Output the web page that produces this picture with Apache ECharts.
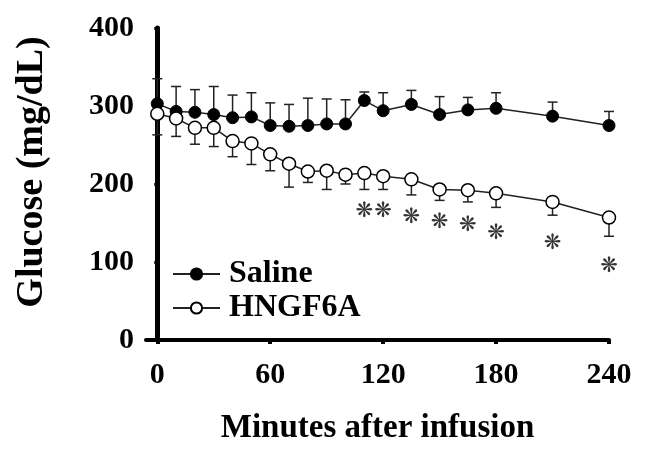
<!DOCTYPE html>
<html>
<head>
<meta charset="utf-8">
<script src="https://cdn.jsdelivr.net/npm/echarts@6/dist/echarts.min.js"></script>
<style>
  html, body { margin: 0; padding: 0; background: #fff; }
  #chart { width: 645px; height: 450px; }
</style>
</head>
<body>
<div id="chart"></div>
<script>
// minutes after infusion
var times = [0, 10, 20, 30, 40, 50, 60, 70, 80, 90, 100, 110, 120, 135, 150, 165, 180, 210, 240];
// Saline mean and upper end of error bar
var saline = [303, 293, 292, 289, 285, 286, 275, 274, 275, 277, 277, 307, 294, 302, 289, 295, 297, 287, 275];
var salineHigh = [335, 325, 321, 325, 314, 317, 304, 302, 310, 309, 308, 318, 317, 320, 312, 311, 317, 305, 293];
// HNGF6A mean and lower end of error bar
var hngf = [290, 284, 272, 272, 255, 252, 238, 226, 216, 217, 212, 214, 210, 206, 193, 192, 188, 177, 157];
var hngfLow = [263, 261, 251, 248, 235, 225, 217, 196, 202, 193, 200, 193, 193, 186, 179, 177, 170, 160, 133];
// significance marks
var starTimes = [110, 120, 135, 150, 165, 180, 210, 240];
var starY = [167, 167, 160, 153, 149, 139, 126, 97];
var xTicks = [0, 60, 120, 180, 240];

var FONT = 'Liberation Serif';

function pairs(xs, ys) {
  return xs.map(function (x, i) { return [x, ys[i]]; });
}
function bars(xs, mid, end) {
  return xs.map(function (x, i) { return [x, mid[i], end[i]]; });
}

function renderBar(params, api) {
  var p0 = api.coord([api.value(0), api.value(1)]);
  var p1 = api.coord([api.value(0), api.value(2)]);
  var half = 5;
  var st = { stroke: '#222', lineWidth: 1.5 };
  return {
    type: 'group',
    children: [
      { type: 'line', shape: { x1: p0[0], y1: p0[1], x2: p1[0], y2: p1[1] }, style: st },
      { type: 'line', shape: { x1: p1[0] - half, y1: p1[1], x2: p1[0] + half, y2: p1[1] }, style: st }
    ]
  };
}

var chart = echarts.init(document.getElementById('chart'));

var option = {
  animation: false,
  backgroundColor: '#fff',
  grid: { left: 146, right: 36, top: 28, bottom: 102, containLabel: false },
  legend: {
    data: ['Saline', 'HNGF6A'],
    orient: 'vertical',
    left: 167,
    top: 253,
    itemWidth: 47,
    itemHeight: 14,
    itemGap: 2,
    textStyle: { fontFamily: FONT, fontWeight: 'bold', fontSize: 32, color: '#000', padding: [0, 0, 0, 4] }
  },
  xAxis: {
    type: 'value',
    min: -6,
    max: 240,
    splitLine: { show: false },
    axisLine: { show: true, lineStyle: { color: '#000', width: 4 } },
    axisTick: { show: true, customValues: xTicks, length: 4, lineStyle: { color: '#000', width: 4 } },
    axisLabel: {
      customValues: xTicks, margin: 20,
      fontFamily: FONT, fontWeight: 'bold', fontSize: 30, color: '#000'
    },
    name: 'Minutes after infusion',
    nameLocation: 'middle',
    nameGap: 72,
    nameTextStyle: { fontFamily: FONT, fontWeight: 'bold', fontSize: 33, color: '#000' }
  },
  yAxis: {
    type: 'value',
    min: 0,
    max: 400,
    interval: 100,
    splitLine: { show: false },
    axisLine: { show: true, lineStyle: { color: '#000', width: 5 } },
    axisTick: { show: true, length: 3, lineStyle: { color: '#000', width: 3 } },
    axisLabel: { margin: 12, fontFamily: FONT, fontWeight: 'bold', fontSize: 30, color: '#000' }
  },
  graphic: [{
    type: 'text',
    x: 32,
    y: 172,
    rotation: Math.PI / 2,
    style: {
      text: 'Glucose (mg/dL)',
      fontFamily: FONT, fontWeight: 'bold', fontSize: 38, fill: '#000',
      textAlign: 'center', textVerticalAlign: 'middle'
    }
  }],
  series: [
    {
      name: 'salineErr', type: 'custom', renderItem: renderBar,
      data: bars(times, saline, salineHigh), z: 1, silent: true
    },
    {
      name: 'hngfErr', type: 'custom', renderItem: renderBar,
      data: bars(times, hngf, hngfLow), z: 1, silent: true
    },
    {
      name: 'Saline', type: 'line', data: pairs(times, saline),
      symbol: 'circle', symbolSize: 12,
      itemStyle: { color: '#000', borderColor: '#000', borderWidth: 1 },
      lineStyle: { color: '#222', width: 1.5 },
      z: 3
    },
    {
      name: 'HNGF6A', type: 'line', data: pairs(times, hngf),
      symbol: 'circle', symbolSize: 13,
      itemStyle: { color: '#fff', borderColor: '#000', borderWidth: 1.5 },
      lineStyle: { color: '#222', width: 1.5 },
      z: 4
    },
    {
      name: 'stars', type: 'scatter', data: pairs(starTimes, starY),
      symbolSize: 1, itemStyle: { color: 'rgba(0,0,0,0)' },
      label: {
        show: true, position: 'inside', formatter: '❋',
        fontFamily: 'DejaVu Sans', fontSize: 21, color: '#000', offset: [0, 2]
      },
      z: 2, silent: true
    }
  ]
};

chart.setOption(option);
</script>
</body>
</html>
